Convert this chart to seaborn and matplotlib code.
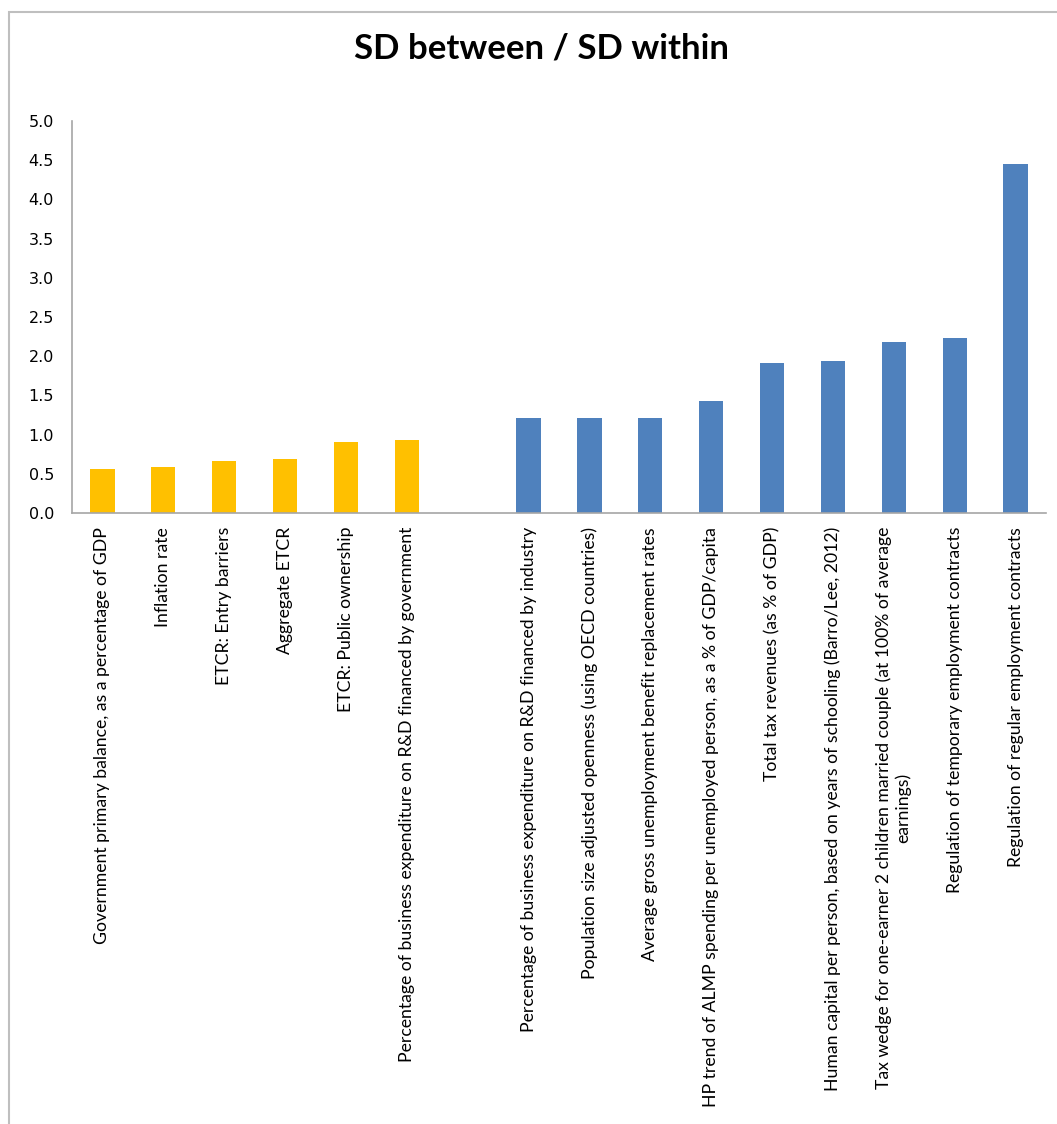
import numpy as np
import pandas as pd
import matplotlib.pyplot as plt
import seaborn as sns
from matplotlib.patches import Rectangle

# Data
labels = [
    "Government primary balance, as a percentage of GDP",
    "Inflation rate",
    "ETCR: Entry barriers",
    "Aggregate ETCR",
    "ETCR: Public ownership",
    "Percentage of business expenditure on R&D financed by government",
    " ",
    "Percentage of business expenditure on R&D financed by industry",
    "Population size adjusted openness (using OECD countries)",
    "Average gross unemployment benefit replacement rates",
    "HP trend of ALMP spending per unemployed person, as a % of GDP/capita",
    "Total tax revenues (as % of GDP)",
    "Human capital per person, based on years of schooling (Barro/Lee, 2012)",
    "Tax wedge for one-earner 2 children married couple (at 100% of average\nearnings)",
    "Regulation of temporary employment contracts",
    "Regulation of regular employment contracts",
]
values = [0.56, 0.59, 0.66, 0.69, 0.91, 0.93, np.nan,
          1.21, 1.21, 1.21, 1.43, 1.91, 1.94, 2.18, 2.23, 4.45]
groups = ["A"] * 7 + ["B"] * 9

df = pd.DataFrame({"label": labels, "value": values, "group": groups})

plt.close("all")
sns.set_theme(style="white")
plt.rcParams["font.family"] = ["DejaVu Sans"]
plt.rcParams["text.color"] = "black"
plt.rcParams["xtick.labelcolor"] = "black"
plt.rcParams["ytick.labelcolor"] = "black"

fig = plt.figure(figsize=(10.57, 11.24), dpi=100)
ax = fig.add_axes([72 / 1057, 1 - 513 / 1124, (1046 - 72) / 1057, (513 - 121) / 1124])

sns.barplot(data=df, x="label", y="value", hue="group", order=labels,
            palette={"A": "#FFC000", "B": "#4F81BD"}, dodge=False, saturation=1,
            width=0.4, linewidth=0, legend=False, ax=ax)

ax.set_xlim(-0.5, len(labels) - 0.5)
ax.set_ylim(0, 5)
ax.set_yticks(np.arange(0, 5.01, 0.5))
ax.set_yticklabels([f"{v:.1f}" for v in np.arange(0, 5.01, 0.5)], fontsize=11.5)
ax.set_xlabel("")
ax.set_ylabel("")

# category labels
ax.set_xticks(range(len(labels)))
ax.set_xticklabels(labels, rotation=90, ha="center", va="top",
                   family=["Lato", "DejaVu Sans"], fontsize=12.7,
                   multialignment="center")
ax.tick_params(axis="x", which="major", length=0, pad=10)
ax.set_xticks(np.arange(-0.5, len(labels), 1), minor=True)
ax.tick_params(axis="x", which="minor", length=5, width=1, color="#a6a6a6", direction="out")
ax.tick_params(axis="y", length=5, width=1, color="#a6a6a6", direction="out", pad=8)

for side in ["top", "right"]:
    ax.spines[side].set_visible(False)
for side in ["left", "bottom"]:
    ax.spines[side].set_color("#a6a6a6")
    ax.spines[side].set_linewidth(1.2)

fig.text(541 / 1057, 1 - 48 / 1124, "SD between / SD within", ha="center", va="center",
         fontsize=25, fontweight="bold", family=["Lato", "DejaVu Sans"])

# chart frame
fig.patches.append(Rectangle((9 / 1057, -0.05), 1.1, 1 - 12 / 1124 + 0.05, fill=False,
                             edgecolor="#bfbfbf", linewidth=1.5,
                             transform=fig.transFigure, figure=fig))

fig.savefig("out.png", dpi=100)
